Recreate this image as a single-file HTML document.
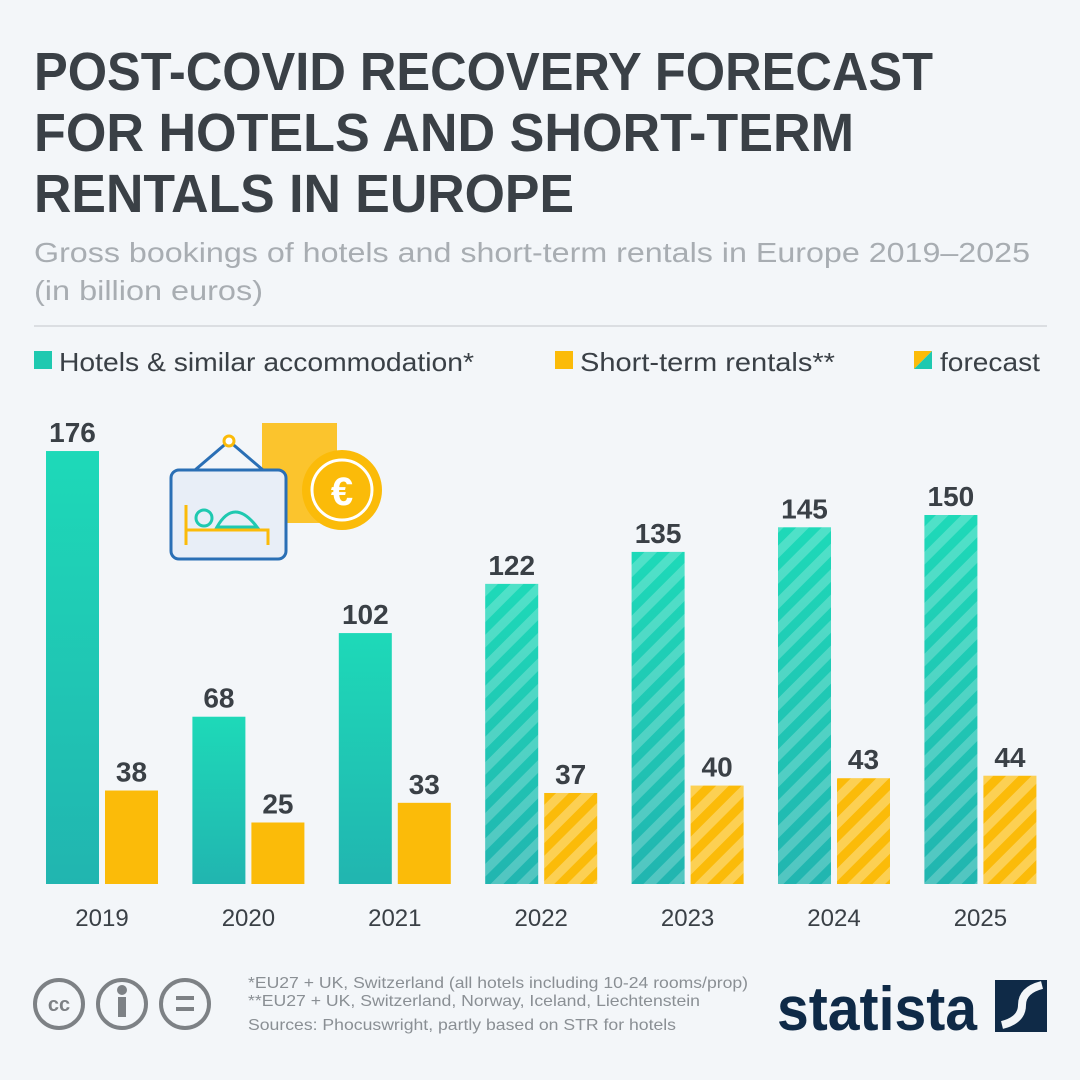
<!DOCTYPE html>
<html><head><meta charset="utf-8"><style>
body{margin:0;width:1080px;height:1080px;background:#f3f6f9;font-family:"Liberation Sans",sans-serif;overflow:hidden}
svg{display:block}
</style></head><body>
<svg id="c" width="1080" height="1080" viewBox="0 0 1080 1080">
<defs>
<linearGradient id="tg" x1="0" y1="0" x2="0" y2="1"><stop offset="0" stop-color="#1ed9b8"/><stop offset="1" stop-color="#21b5b0"/></linearGradient>
<pattern id="th" width="18" height="18" patternUnits="userSpaceOnUse" patternTransform="rotate(45)"><rect width="9" height="18" fill="rgba(255,255,255,0.22)"/></pattern>
<pattern id="yh" width="18" height="18" patternUnits="userSpaceOnUse" patternTransform="rotate(45)"><rect width="9" height="18" fill="rgba(255,255,255,0.3)"/></pattern>
</defs>
<g font-weight="bold" font-size="54" fill="#3a4046">
<text x="34" y="90" textLength="899" lengthAdjust="spacingAndGlyphs">POST-COVID RECOVERY FORECAST</text>
<text x="34" y="151" textLength="820" lengthAdjust="spacingAndGlyphs">FOR HOTELS AND SHORT-TERM</text>
<text x="34" y="212" textLength="540" lengthAdjust="spacingAndGlyphs">RENTALS IN EUROPE</text></g>
<g font-size="28" fill="#a8adb2">
<text x="34" y="262" textLength="996" lengthAdjust="spacingAndGlyphs">Gross bookings of hotels and short-term rentals in Europe 2019–2025</text>
<text x="34" y="300" textLength="229" lengthAdjust="spacingAndGlyphs">(in billion euros)</text></g>
<line x1="34" y1="326" x2="1047" y2="326" stroke="#d3d6da" stroke-width="1.5"/>
<g font-size="26" fill="#3a4046">
<g><rect x="34" y="351" width="18" height="18" fill="#1fc9b0"/><text x="59" y="371" textLength="415" lengthAdjust="spacingAndGlyphs">Hotels &amp; similar accommodation*</text></g>
<g><rect x="555" y="351" width="18" height="18" fill="#fbbb09"/><text x="580" y="371" textLength="255" lengthAdjust="spacingAndGlyphs">Short-term rentals**</text></g>
<g><polygon points="914,351 932,351 914,369" fill="#fbbb09"/><polygon points="932,351 932,369 914,369" fill="#1fc9b0"/><text x="940" y="371" textLength="100" lengthAdjust="spacingAndGlyphs">forecast</text></g>
</g>
<g fill="none" stroke-width="3">
<rect x="262" y="423" width="75" height="100" fill="#fbbb09" stroke="none" opacity="0.85"/>
<circle cx="342" cy="490" r="40" fill="#fbbb09"/><circle cx="342" cy="490" r="30" stroke="#fff"/>
<text x="342" y="505" font-size="40" fill="#fff" stroke="none" text-anchor="middle" font-weight="bold">€</text>
<polyline points="195,470 229,441 263,470" stroke="#2a6fb5"/><circle cx="229" cy="441" r="5" stroke="#fbbb09" fill="#fff"/>
<rect x="171" y="470" width="115" height="89" rx="8" fill="#e8eef7" stroke="#2a6fb5"/>
<circle cx="204" cy="518" r="8" stroke="#1fc9b0"/><path d="M217 527 q17 -30 40 0 z" stroke="#1fc9b0"/>
<polyline points="186,505 186,545 186,530 268,530 268,545" stroke="#fbbb09"/>
</g>
<g id="bars"></g>
<g font-size="16" fill="#8a8f94">
<text x="248" y="988" textLength="500" lengthAdjust="spacingAndGlyphs">*EU27 + UK, Switzerland (all hotels including 10-24 rooms/prop)</text>
<text x="248" y="1006" textLength="452" lengthAdjust="spacingAndGlyphs">**EU27 + UK, Switzerland, Norway, Iceland, Liechtenstein</text>
<text x="248" y="1030" textLength="428" lengthAdjust="spacingAndGlyphs">Sources: Phocuswright, partly based on STR for hotels</text></g>
<g stroke="#7d8185" stroke-width="4" fill="none">
<circle cx="59" cy="1004" r="24"/><circle cx="122" cy="1004" r="24"/><circle cx="185" cy="1004" r="24"/>
<text x="59" y="1011" font-size="20" font-weight="bold" fill="#7d8185" stroke="none" text-anchor="middle">cc</text>
<circle cx="122" cy="990" r="3" fill="#7d8185"/><rect x="118" y="997" width="8" height="20" fill="#7d8185" stroke="none"/>
<line x1="176" y1="998" x2="194" y2="998"/><line x1="176" y1="1009" x2="194" y2="1009"/></g>
<g>
<text x="777" y="1030" font-size="62" font-weight="bold" fill="#0f2a47" textLength="200" lengthAdjust="spacingAndGlyphs">statista</text>
<rect x="995" y="980" width="52" height="52" fill="#0f2a47"/><path d="M1002 1025 q20 -5 20 -20 q0 -15 20 -20" stroke="#f3f6f9" stroke-width="8" fill="none"/></g>
</svg>
<script>
const years=["2019","2020","2021","2022","2023","2024","2025"];
const hotels=[176,68,102,122,135,145,150];
const rentals=[38,25,33,37,40,43,44];
const forecast=[false,false,false,true,true,true,true];
const ns="http://www.w3.org/2000/svg";
const g=document.getElementById('bars');
const base=884, k=2.46, x0=46, step=146.4, bw=53;
const y=v=>base-v*k;
function mk(t,a){const e=document.createElementNS(ns,t);for(const n in a)e.setAttribute(n,a[n]);g.appendChild(e);return e;}
years.forEach((yr,i)=>{
  const xh=x0+i*step, xr=xh+59;
  const h=mk('rect',{x:xh,y:y(hotels[i]),width:bw,height:hotels[i]*k,fill:'url(#tg)'});
  
  
  const r=mk('rect',{x:xr,y:y(rentals[i]),width:bw,height:rentals[i]*k,fill:'#fbbb09'});
  
  
  if(forecast[i]){
    mk('rect',{x:xh,y:y(hotels[i]),width:bw,height:hotels[i]*k,fill:'url(#th)'});
    mk('rect',{x:xr,y:y(rentals[i]),width:bw,height:rentals[i]*k,fill:'url(#yh)'});
  }
  const lh=mk('text',{x:xh+bw/2,y:y(hotels[i])-9,'text-anchor':'middle','font-size':28,'font-weight':'bold',fill:'#3a4046'});
  lh.textContent=hotels[i];
  
  
  const lr=mk('text',{x:xr+bw/2,y:y(rentals[i])-9,'text-anchor':'middle','font-size':28,'font-weight':'bold',fill:'#3a4046'});
  lr.textContent=rentals[i];
  
  
  const xl=mk('text',{x:xh+56,y:926,'text-anchor':'middle','font-size':24,fill:'#3a4046'});
  xl.textContent=yr;
  
  
});
</script>
</body></html>
